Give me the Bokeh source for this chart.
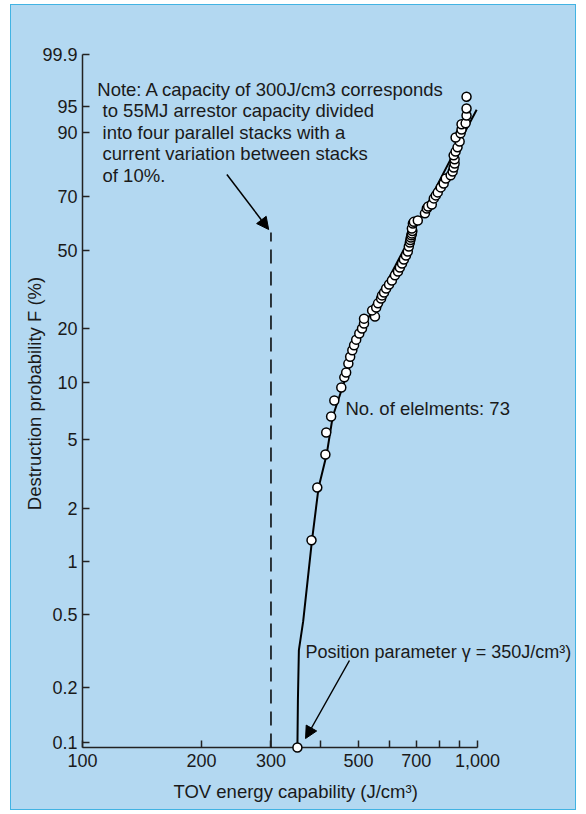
import numpy as np
from bokeh.plotting import figure
from bokeh.models import FixedTicker, Label, Arrow, NormalHead, Title
from bokeh.embed import file_html
from bokeh.resources import INLINE

# ---------------- data ----------------
# measured elements: TOV energy capability (J/cm3) and destruction probability F (%)
ENERGY = [380, 393, 412, 414, 426, 434, 452, 460, 465, 471, 476, 482, 487, 493, 502,
          510, 516, 516, 550, 541, 554, 560, 570, 573, 580, 587, 597, 607, 618, 629,
          636, 644, 651, 659, 666, 670, 674, 676, 678, 680, 682, 684, 682, 686, 690,
          706, 736, 744, 750, 766, 775, 784, 793, 807, 821, 831, 855, 865, 870, 875,
          875, 870, 880, 890, 901, 880, 906, 911, 911, 933, 938, 938, 938]
PROB = [1.32, 2.65, 4.10, 5.45, 6.63, 8.05, 9.42, 10.7, 11.4, 12.8, 14.0, 15.2, 16.2, 17.4, 18.8,
        20.0, 21.3, 22.7, 23.3, 25.2, 26.1, 27.5, 29.2, 30.3, 31.4, 32.9, 34.5, 36.1, 38.3, 40.0,
        41.8, 43.7, 45.6, 47.5, 49.5, 51.4, 52.9, 53.8, 54.7, 55.5, 56.2, 57.1, 58.0, 59.9, 60.5,
        61.0, 63.7, 65.5, 66.3, 67.0, 69.3, 70.4, 71.5, 73.3, 74.7, 76.4, 77.5, 78.8, 80.1, 81.4,
        82.7, 83.9, 85.0, 86.2, 87.8, 88.8, 89.8, 90.7, 91.8, 92.0, 93.5, 94.7, 97.0]

# fitted distribution curve (starts at the position parameter on the axis)
FIT_ENERGY = [351, 353, 362, 381, 396, 415, 430, 455, 503, 545, 620, 717, 865, 995]
FIT_PROB = [0.17, 0.32, 0.46, 1.32, 2.65, 4.10, 6.63, 9.42, 18.3, 26.1, 42.7, 62.1, 83.9, 94.5]

# position parameter gamma (J/cm3), drawn on the energy axis
GAMMA_ENERGY = [350]

# 300 J/cm3 reference capacity (dashed)
REF_ENERGY = [300, 300]
REF_PROB_TOP = 56.5

X_TICKS = [100, 200, 300, 400, 500, 600, 700, 800, 900, 1000]
X_TICK_LABELS = ["100", "200", "300", "", "500", "", "700", "", "", "1,000"]
X_AXIS_SPAN = [100, 1000]
Y_TICKS = [0.1, 0.2, 0.5, 1, 2, 5, 10, 20, 50, 70, 90, 95, 99.9]
Y_TICK_LABELS = ["0.1", "0.2", "0.5", "1", "2", "5", "10", "20", "50", "70", "90", "95", "99.9"]
# probability-paper grid: height of each tick line above the 0.1 % line
Y_GRID = [0, 55, 128, 181, 234, 303, 360, 414, 492, 546, 610, 636, 688]
AXIS_Y = -5          # energy axis sits slightly below the 0.1 % line
Y_MIN, Y_MAX = -36, 712   # drawing area reaches past the axes so their labels are not clipped
X_MIN, X_MAX = 69.67, 1780.6

NOTE_LINES = ["Note: A capacity of 300J/cm3 corresponds",
              "to 55MJ arrestor capacity divided",
              "into four parallel stacks with a",
              "current variation between stacks",
              "of 10%."]


def weib(F):
    F = np.asarray(F, dtype=float) / 100.0
    return np.log(-np.log(1.0 - F))


def ypos(F):
    return np.interp(weib(F), weib(Y_TICKS), Y_GRID)


BLUE = "#b3d8f1"
INK = "#1a1a1a"
AXIS = "#222222"
FONT = "Liberation Sans"
FS = "18px"
FS_TXT = "18.5px"

p = figure(width=566, height=806, x_axis_type="log",
           x_range=(X_MIN, X_MAX), y_range=(Y_MIN, Y_MAX),
           output_backend="svg", toolbar_location=None, title=None,
           min_border_left=10, min_border_right=0, min_border_top=26, min_border_bottom=32,
           background_fill_color=None, border_fill_color=None, outline_line_color=None,
           margin=(4, 0, 0, 10),
           styles={"outline": "1.5px solid #41b3e3", "outline-offset": "-1.5px",
                   "background-color": BLUE})

p.xgrid.visible = False
p.ygrid.visible = False

p.xaxis.ticker = FixedTicker(ticks=X_TICKS, minor_ticks=[])
p.xaxis.major_label_overrides = {t: l for t, l in zip(X_TICKS, X_TICK_LABELS)}
y_ticks = [float(v) for v in ypos(Y_TICKS)]
p.yaxis.ticker = FixedTicker(ticks=y_ticks, minor_ticks=[])
p.yaxis.major_label_overrides = {t: l for t, l in zip(y_ticks, Y_TICK_LABELS)}

for ax in (p.xaxis[0], p.yaxis[0]):
    ax.axis_line_color = None
    ax.major_tick_line_color = AXIS
    ax.major_tick_line_width = 1.5
    ax.major_tick_in = 7
    ax.major_tick_out = 0
    ax.minor_tick_line_color = None
    ax.major_label_text_font = FONT
    ax.major_label_text_font_size = FS
    ax.major_label_text_color = INK

p.xaxis.fixed_location = AXIS_Y
p.yaxis.fixed_location = X_AXIS_SPAN[0]
p.xaxis.major_label_standoff = 6
p.yaxis.major_label_standoff = 5

p.add_layout(Title(text="TOV energy capability (J/cm³)", align="left", offset=153, standoff=0,
                   text_font=FONT, text_font_size=FS_TXT, text_font_style="normal",
                   text_color=INK), "below")
p.add_layout(Label(x=75.8, y=349, angle=np.pi / 2, text="Destruction probability F (%)",
                   text_font=FONT, text_font_size=FS_TXT, text_color=INK,
                   text_align="center", text_baseline="middle"))

# axis lines: energy axis from 100 to 1,000 and probability axis from the energy axis up
p.line(X_AXIS_SPAN, [AXIS_Y, AXIS_Y], line_color=AXIS, line_width=1.5)
p.line([X_AXIS_SPAN[0]] * 2, [AXIS_Y, Y_GRID[-1]], line_color=AXIS, line_width=1.5)

# dashed reference line
p.line(REF_ENERGY, [AXIS_Y, float(ypos(REF_PROB_TOP))], line_color="black", line_width=1.5,
       line_dash="14 8")
# fitted curve from the position parameter upwards
p.line(GAMMA_ENERGY + FIT_ENERGY, [AXIS_Y] + list(ypos(FIT_PROB)), line_color="black", line_width=2)
# measured points
p.scatter(ENERGY, ypos(PROB), size=9, fill_color="white", line_color="black", line_width=1.5)
p.scatter(GAMMA_ENERGY, [AXIS_Y], size=9, fill_color="white", line_color="black", line_width=1.5)

# note text
note_y = [653, 632, 610, 589, 567]
note_x = [109, 112.4, 112.4, 112.4, 112.4]
for t, xx, yy in zip(NOTE_LINES, note_x, note_y):
    p.add_layout(Label(x=xx, y=yy, text=t, text_font=FONT, text_font_size=FS_TXT,
                       text_color=INK, text_baseline="middle", text_align="left"))

p.add_layout(Label(x=463, y=334, text="No. of elelments: 73", text_font=FONT,
                   text_font_size=FS_TXT, text_color=INK, text_baseline="middle"))
p.add_layout(Label(x=367, y=91, text="Position parameter γ = 350J/cm³)", text_font=FONT,
                   text_font_size=FS, text_color=INK, text_baseline="middle"))

p.add_layout(Arrow(end=NormalHead(size=12, fill_color="black", line_color="black"),
                   x_start=232, y_start=568, x_end=296, y_end=513,
                   line_color="black", line_width=1.5))
p.add_layout(Arrow(end=NormalHead(size=12, fill_color="black", line_color="black"),
                   x_start=474, y_start=82, x_end=367, y_end=4,
                   line_color="black", line_width=1.5))

open("out.html", "w").write(file_html(p, INLINE))
